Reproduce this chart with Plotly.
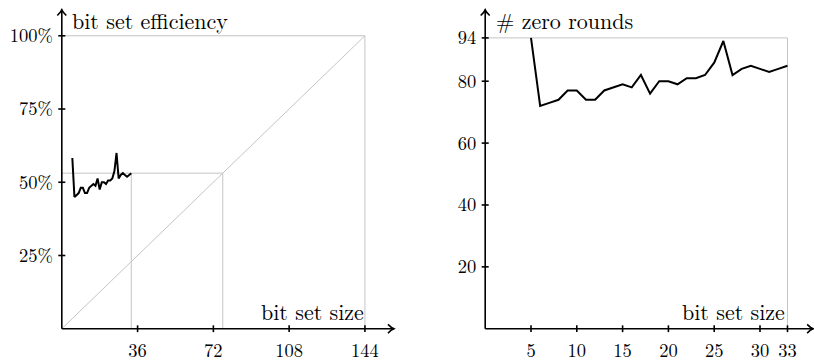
import plotly.graph_objects as go

# ---------------- data ----------------
sizes = [5, 6, 7, 8, 9, 10, 11, 12, 13, 14, 15, 16, 17, 18, 19, 20,
         21, 22, 23, 24, 25, 26, 27, 28, 29, 30, 31, 32, 33]
zero_rounds = [94, 72, 73, 74, 77, 77, 74, 74, 77, 78, 79, 78, 82, 76, 80, 80,
               79, 81, 81, 82, 86, 93, 82, 84, 85, 84, 83, 84, 85]
efficiency = [58.3, 45.0, 45.6, 46.3, 48.1, 48.1, 46.3, 46.3, 48.1, 48.8, 49.4, 48.8,
              51.3, 47.5, 50.0, 50.0, 49.4, 50.6, 50.6, 51.3, 53.8, 60.0, 51.3, 52.5,
              53.1, 52.5, 51.9, 52.5, 53.1]

left_xticks = [36, 72, 108, 144]
left_yticks = [25, 50, 75, 100]
left_ytext = ["25%", "50%", "75%", "100%"]
right_xticks = [5, 10, 15, 20, 25, 30, 33]
right_yticks = [20, 40, 60, 80, 94]

# ---------------- geometry (pixels) ----------------
W, H = 814, 362
FONT = "Latin Modern Roman"
GRAY = "#c4c4c4"

L_X_MAX, R_X_MAX = 144, 33
L_Y_MAX, R_Y_MAX = 100, 94

# panel: origin pixel, pixels per unit, axis extents (in data units)
L = dict(ox=61.8, oy=340, sx=2.105, sy=3.03, xend=157.8, yend=108.9)
R = dict(ox=485.2, oy=340, sx=9.16, sy=3.2, xend=35.8, yend=103.1)


def dom_x(p):
    return [p["ox"] / W, (p["ox"] + p["sx"] * p["xend"]) / W]


def dom_y(p):
    return [(H - p["oy"]) / H, (H - p["oy"] + p["sy"] * p["yend"]) / H]


def px(p, xv):
    return p["ox"] + p["sx"] * xv


def py(p, yv):
    return p["oy"] - p["sy"] * yv


def PX(x):
    return x / W


def PY(y):
    return 1 - y / H


fig = go.Figure()

fig.add_trace(go.Scatter(x=sizes, y=efficiency, mode="lines",
                         line=dict(color="black", width=2), xaxis="x", yaxis="y",
                         hoverinfo="skip"))
fig.add_trace(go.Scatter(x=sizes, y=zero_rounds, mode="lines",
                         line=dict(color="black", width=2), xaxis="x2", yaxis="y2",
                         hoverinfo="skip"))

tickfont = dict(family=FONT, size=18.5, color="black")
common = dict(showgrid=False, zeroline=False, showline=False, ticks="",
              tickfont=tickfont, fixedrange=True)

fig.update_layout(
    width=W, height=H,
    margin=dict(l=0, r=0, t=0, b=0),
    paper_bgcolor="white", plot_bgcolor="white",
    showlegend=False,
    xaxis=dict(domain=dom_x(L), range=[0, L["xend"]],
               tickvals=left_xticks, ticklabelstandoff=9, anchor="y", **common),
    yaxis=dict(domain=dom_y(L), range=[0, L["yend"]],
               tickvals=left_yticks, ticktext=left_ytext, ticklabelstandoff=8,
               anchor="x", **common),
    xaxis2=dict(domain=dom_x(R), range=[0, R["xend"]],
                tickvals=right_xticks, ticklabelstandoff=9, anchor="y2", **common),
    yaxis2=dict(domain=dom_y(R), range=[0, R["yend"]],
                tickvals=right_yticks, ticklabelstandoff=8, anchor="x2", **common),
)

shapes = []


def line(xref, yref, x0, y0, x1, y1, color, width):
    shapes.append(dict(type="line", xref=xref, yref=yref, x0=x0, y0=y0, x1=x1, y1=y1,
                       line=dict(color=color, width=width), layer="below"))


# ----- left panel guide lines -----
last_eff = efficiency[-1]
last_size = sizes[-1]
cross_x = L_X_MAX * last_eff / L_Y_MAX
line("x", "y", 0, 0, L_X_MAX, L_Y_MAX, GRAY, 1)
line("x", "y", 0, L_Y_MAX, L_X_MAX, L_Y_MAX, GRAY, 1)
line("x", "y", L_X_MAX, 0, L_X_MAX, L_Y_MAX, GRAY, 1)
line("x", "y", 0, last_eff, cross_x, last_eff, GRAY, 1)
line("x", "y", cross_x, 0, cross_x, last_eff, GRAY, 1)
line("x", "y", last_size, 0, last_size, last_eff, GRAY, 1)

# ----- right panel guide lines -----
line("x2", "y2", 0, R_Y_MAX, R_X_MAX, R_Y_MAX, GRAY, 1)
line("x2", "y2", R_X_MAX, 0, R_X_MAX, R_Y_MAX, GRAY, 1)

AX = dict(color="black", width=1.6)


def paper_line(x0, y0, x1, y1):
    shapes.append(dict(type="line", xref="paper", yref="paper",
                       x0=PX(x0), y0=PY(y0), x1=PX(x1), y1=PY(y1), line=AX))


def paper_path(points):
    d = "M " + " L ".join(f"{PX(a):.5f},{PY(b):.5f}" for a, b in points)
    shapes.append(dict(type="path", xref="paper", yref="paper", path=d, line=AX))


def axes(p, xticks, yticks):
    x0, y0 = p["ox"], p["oy"]
    xe, ye = px(p, p["xend"]), py(p, p["yend"])
    paper_line(x0, y0, xe, y0)
    paper_line(x0, y0, x0, ye)
    # arrow heads (open chevrons)
    paper_path([(xe - 6, y0 - 4.5), (xe - 2.5, y0 - 1.3), (xe, y0),
                (xe - 2.5, y0 + 1.3), (xe - 6, y0 + 4.5)])
    paper_path([(x0 - 4.5, ye + 6), (x0 - 1.3, ye + 2.5), (x0, ye),
                (x0 + 1.3, ye + 2.5), (x0 + 4.5, ye + 6)])
    for t in xticks:
        paper_line(px(p, t), y0 - 3.5, px(p, t), y0 + 3.5)
    for t in yticks:
        paper_line(x0 - 3.5, py(p, t), x0 + 3.5, py(p, t))


axes(L, left_xticks, left_yticks)
axes(R, right_xticks, right_yticks)

titlefont = dict(family=FONT, size=22, color="black")


def label(text, xpx, ypx, xanchor):
    return dict(text=text, xref="paper", yref="paper", x=PX(xpx), y=PY(ypx),
                xanchor=xanchor, yanchor="middle", showarrow=False, font=titlefont)


fig.update_layout(
    shapes=shapes,
    annotations=[
        label("bit set efficiency", 70, 20, "left"),
        label("# zero rounds", 494, 20, "left"),
        label("bit set size", 366, 321, "right"),
        label("bit set size", 787, 321, "right"),
    ],
)

fig.write_html("out.html", config={"displayModeBar": False},
               post_script="document.body.style.margin='0';document.body.style.overflow='hidden';")
